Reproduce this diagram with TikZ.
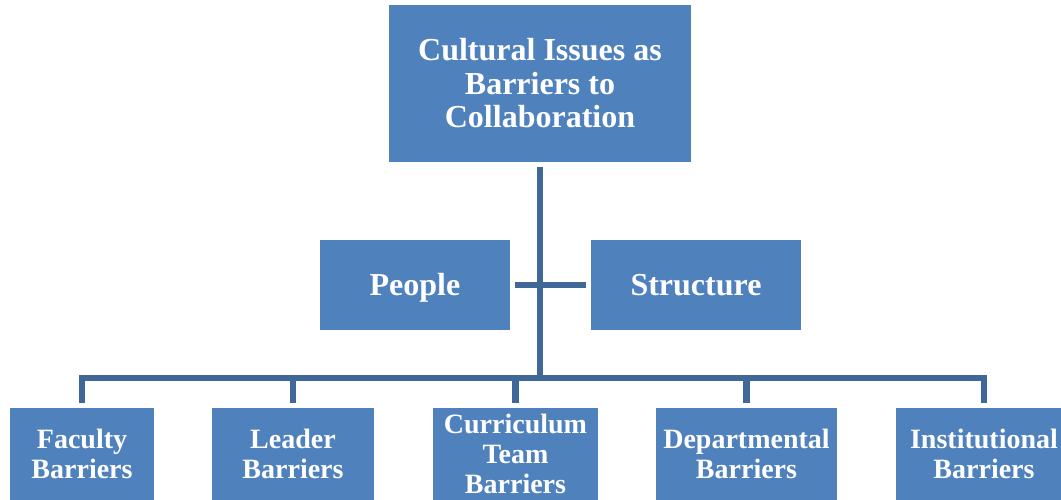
\documentclass[tikz,border=0pt]{standalone}
\usepackage{fontspec}
\setmainfont{Liberation Serif}
\usepackage{tikz}

\definecolor{boxblue}{HTML}{4F81BD}
\definecolor{linkblue}{HTML}{3F6797}

\tikzset{
  box/.style={fill=boxblue,text=white,align=center,inner sep=0pt,anchor=center,font=\bfseries\fontsize{32}{33.5}\selectfont},
  midbox/.style={box,minimum height=90pt,text height=24pt,text depth=4pt},
  lowbox/.style={box,minimum height=92pt,font=\bfseries\fontsize{28}{30}\selectfont},
  link/.style={draw=linkblue,line width=6.5pt,shorten >=5pt,shorten <=5pt}
}

\begin{document}
\begin{tikzpicture}[x=1pt,y=-1pt]
  \useasboundingbox (0,0) rectangle (1061,500);
  %top
  \node[box,minimum width=302pt,minimum height=157pt] (issues) at (540,83.5) {Cultural Issues as\\Barriers to\\Collaboration};
  %middle
  \node[midbox,minimum width=190pt] (people) at (415,285) {People};
  \node[midbox,minimum width=210pt] (structure) at (696,285) {Structure};
  %bottom
  \node[lowbox,minimum width=144pt] (faculty) at (82,454) {Faculty\\Barriers};
  \node[lowbox,minimum width=162pt] (leader) at (293,454) {Leader\\Barriers};
  \node[lowbox,minimum width=165pt] (curriculum) at (515.5,454) {Curriculum\\Team\\Barriers};
  \node[lowbox,minimum width=181pt] (departmental) at (746.5,454) {Departmental\\Barriers};
  \node[lowbox,minimum width=176pt] (institutional) at (984,454) {Institutional\\Barriers};
  %connectors
  \coordinate (bus) at (540,378);
  \draw[link,shorten >=0pt] (issues) -- (bus);
  \draw[link] (people) -- (structure);
  \draw[link] (faculty) |- (bus) -| (institutional);
  \draw[link,shorten <=0pt] (bus -| leader) -- (leader);
  \draw[link,shorten <=0pt] (bus -| curriculum) -- (curriculum);
  \draw[link,shorten <=0pt] (bus -| departmental) -- (departmental);
\end{tikzpicture}
\end{document}
